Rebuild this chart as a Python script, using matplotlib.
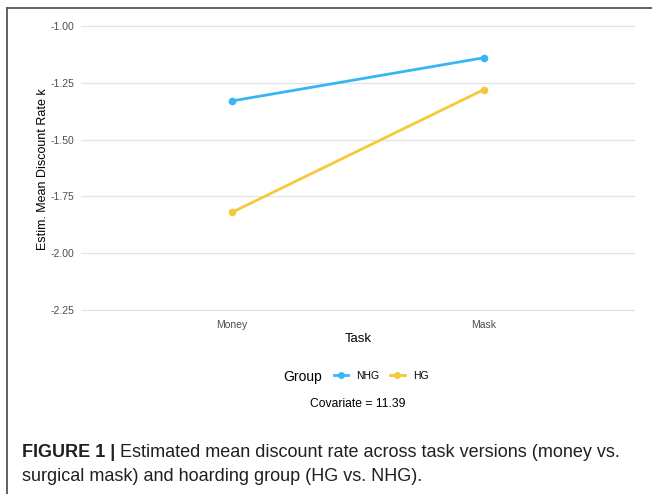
import matplotlib
matplotlib.use("Agg")
from matplotlib import pyplot as plt
from matplotlib.lines import Line2D

# data
tasks = ["Money", "Mask"]
groups = ["NHG", "HG"]
nhg_values = [-1.33, -1.14]
hg_values = [-1.82, -1.28]
colors = ["#38b6f3", "#f5c93a"]
y_ticks = [-1.00, -1.25, -1.50, -1.75, -2.00, -2.25]
covariate = 11.39

plt.rcParams["font.family"] = ["Liberation Sans", "DejaVu Sans"]

fig = plt.figure(figsize=(6.52, 4.94), dpi=100)
ax = fig.add_axes([0.1242, 0.3587, 0.8498, 0.598])

x = list(range(1, len(tasks) + 1))
for vals, col, name in zip([nhg_values, hg_values], colors, groups):
    ax.plot(x, vals, color=col, lw=2.0, marker="o", ms=4.5, label=name)

ax.set_xlim(0.4, 2.6)
ax.set_ylim(-2.28, -0.98)
ax.set_xticks(x)
ax.set_xticklabels(tasks)
ax.set_yticks(y_ticks)
ax.set_yticklabels([f"{v:.2f}" for v in y_ticks])
ax.tick_params(axis="y", length=0, labelsize=7.5, labelcolor="#4d4d4d", pad=5)
ax.tick_params(axis="x", length=0, labelsize=7.5, labelcolor="#4d4d4d", pad=2)
ax.grid(axis="y", color="#e3e3e3", lw=0.9)
ax.grid(axis="x", visible=False)
ax.set_axisbelow(True)
for s in ax.spines.values():
    s.set_visible(False)
ax.set_xlabel("Task", fontsize=9.5, labelpad=2.5)
ax.set_ylabel("Estim. Mean Discount Rate k", fontsize=9, labelpad=1)

# legend
fig.text(303 / 652, 1 - 377 / 494, "Group", fontsize=10, ha="center", va="center")
handles = [Line2D([0], [0], color=c, lw=2.0, marker="o", ms=4) for c in colors]
fig.legend(handles, groups, loc="center", bbox_to_anchor=(381 / 652, 1 - 376 / 494),
           ncol=2, frameon=False, fontsize=7.5, handlelength=1.4, handletextpad=0.8,
           columnspacing=1.0)
fig.text(358 / 652, 1 - 404 / 494, f"Covariate = {covariate:.2f}", fontsize=8.7,
         ha="center", va="center")

# frame
fig.add_artist(Line2D([7 / 652, 7 / 652], [0, 1 - 8 / 494], color="#555555", lw=1.3))
fig.add_artist(Line2D([7 / 652, 1], [1 - 8 / 494, 1 - 8 / 494], color="#555555", lw=1.3))

# caption
cap_font = ["Liberation Sans Narrow", "Liberation Sans", "DejaVu Sans"]
t = fig.text(22 / 652, 1 - 452 / 494, "FIGURE 1 |", fontsize=13, fontweight="bold",
             family=cap_font, ha="left", va="center", color="#231f20")
fig.canvas.draw()
bb = t.get_window_extent()
fig.text(bb.x1 / 652 + 0.007, 1 - 452 / 494,
         "Estimated mean discount rate across task versions (money vs.",
         fontsize=13, family=cap_font, ha="left", va="center", color="#231f20")
fig.text(22 / 652, 1 - 476 / 494, "surgical mask) and hoarding group (HG vs. NHG).",
         fontsize=13, family=cap_font, ha="left", va="center", color="#231f20")

fig.savefig("out.png", dpi=100)
